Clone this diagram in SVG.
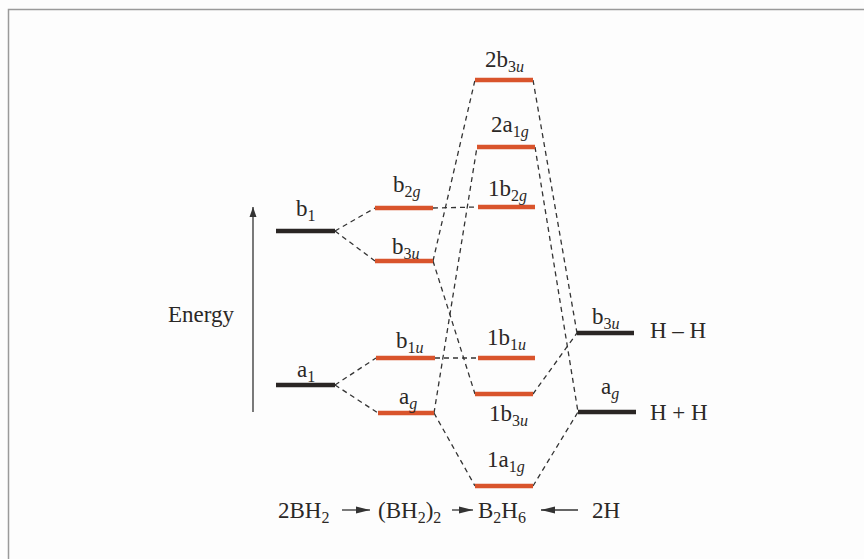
<svg xmlns="http://www.w3.org/2000/svg" width="864" height="559" viewBox="0 0 864 559">
<style>
text{font-family:"Liberation Serif","Times New Roman",serif;font-size:23px;fill:#2b2826}
.s{font-size:16px}
.i{font-style:italic}
.o{stroke:#d9542c;stroke-width:4.5;fill:none}
.k{stroke:#2a2624;stroke-width:4.5;fill:none}
.d{stroke:#333;stroke-width:1.3;stroke-dasharray:5 4;fill:none}
.a{stroke:#333;stroke-width:1.3;fill:none}
</style>
<defs>
<marker id="ah" viewBox="0 0 10 10" refX="10" refY="5" markerWidth="10" markerHeight="10" markerUnits="userSpaceOnUse" orient="auto"><path d="M0,1.5 L10,5 L0,8.5 Z" fill="#333"/></marker>
<marker id="ab" viewBox="0 0 14 10" refX="14" refY="5" markerWidth="14" markerHeight="10" markerUnits="userSpaceOnUse" orient="auto"><path d="M0,1.5 L14,5 L0,8.5 Z" fill="#333"/></marker>
</defs>
<rect width="864" height="559" fill="#fdfdfd"/>
<path d="M8.5,559 V9.5 H864" stroke="#9a9a9a" stroke-width="1.5" fill="none"/>

<g id="connectors">
<path class="d" d="M335,231 L375,208"/>
<path class="d" d="M335,231 L375,261"/>
<path class="d" d="M335,385 L376,358"/>
<path class="d" d="M335,385 L378,413"/>
<path class="d" d="M433,208 L478,207"/>
<path class="d" d="M435,358 L478,358"/>
<path class="d" d="M433,261 L475,80"/>
<path class="d" d="M433,261 L475,394"/>
<path class="d" d="M434,413 L477,147"/>
<path class="d" d="M434,413 L475,486"/>
<path class="d" d="M533,80 L577,333"/>
<path class="d" d="M535,147 L578,412"/>
<path class="d" d="M533,394 L577,333"/>
<path class="d" d="M533,486 L578,412"/>
</g>

<g id="energy-axis">
<path class="a" d="M253,412 V207" marker-end="url(#ah)"/>
<text x="168" y="322">Energy</text>
</g>

<g id="BH2-b1"><path class="k" d="M276,231 H335"/><text x="296" y="216">b<tspan class="s" dy="5">1</tspan></text></g>
<g id="BH2-a1"><path class="k" d="M276,385 H335"/><text x="297" y="377">a<tspan class="s" dy="5">1</tspan></text></g>

<g id="BH22-b2g"><path class="o" d="M375,208 H433"/><text x="393" y="192">b<tspan class="s" dy="5">2<tspan class="i">g</tspan></tspan></text></g>
<g id="BH22-b3u"><path class="o" d="M375,261 H433"/><text x="392" y="254">b<tspan class="s" dy="5">3<tspan class="i">u</tspan></tspan></text></g>
<g id="BH22-b1u"><path class="o" d="M376,358 H435"/><text x="396" y="348">b<tspan class="s" dy="5">1<tspan class="i">u</tspan></tspan></text></g>
<g id="BH22-ag"><path class="o" d="M378,413 H434"/><text x="399" y="404">a<tspan class="s i" dy="5">g</tspan></text></g>

<g id="B2H6-2b3u"><path class="o" d="M475,80 H533"/><text x="485" y="67">2b<tspan class="s" dy="5">3<tspan class="i">u</tspan></tspan></text></g>
<g id="B2H6-2a1g"><path class="o" d="M477,147 H535"/><text x="491" y="132">2a<tspan class="s" dy="5">1<tspan class="i">g</tspan></tspan></text></g>
<g id="B2H6-1b2g"><path class="o" d="M478,207 H535"/><text x="488" y="196">1b<tspan class="s" dy="5">2<tspan class="i">g</tspan></tspan></text></g>
<g id="B2H6-1b1u"><path class="o" d="M478,358 H535"/><text x="487" y="345">1b<tspan class="s" dy="5">1<tspan class="i">u</tspan></tspan></text></g>
<g id="B2H6-1b3u"><path class="o" d="M475,394 H533"/><text x="489" y="421">1b<tspan class="s" dy="5">3<tspan class="i">u</tspan></tspan></text></g>
<g id="B2H6-1a1g"><path class="o" d="M475,486 H533"/><text x="487" y="467">1a<tspan class="s" dy="5">1<tspan class="i">g</tspan></tspan></text></g>

<g id="H-b3u"><path class="k" d="M577,333 H634"/><text x="592" y="324">b<tspan class="s" dy="5">3<tspan class="i">u</tspan></tspan></text><text x="650" y="338">H – H</text></g>
<g id="H-ag"><path class="k" d="M578,412 H636"/><text x="601" y="394">a<tspan class="s i" dy="5">g</tspan></text><text x="650" y="420">H + H</text></g>

<g id="reaction">
<text x="278" y="518">2BH<tspan class="s" dy="5">2</tspan></text>
<path class="a" d="M342,510 H370" marker-end="url(#ab)"/>
<text x="378" y="518">(BH<tspan class="s" dy="5">2</tspan><tspan dy="-5">)</tspan><tspan class="s" dy="5">2</tspan></text>
<path class="a" d="M452,510 H473" marker-end="url(#ab)"/>
<text x="478" y="518">B<tspan class="s" dy="5">2</tspan><tspan dy="-5">H</tspan><tspan class="s" dy="5">6</tspan></text>
<path class="a" d="M578,510 H541" marker-end="url(#ab)"/>
<text x="592" y="518">2H</text>
</g>
</svg>
